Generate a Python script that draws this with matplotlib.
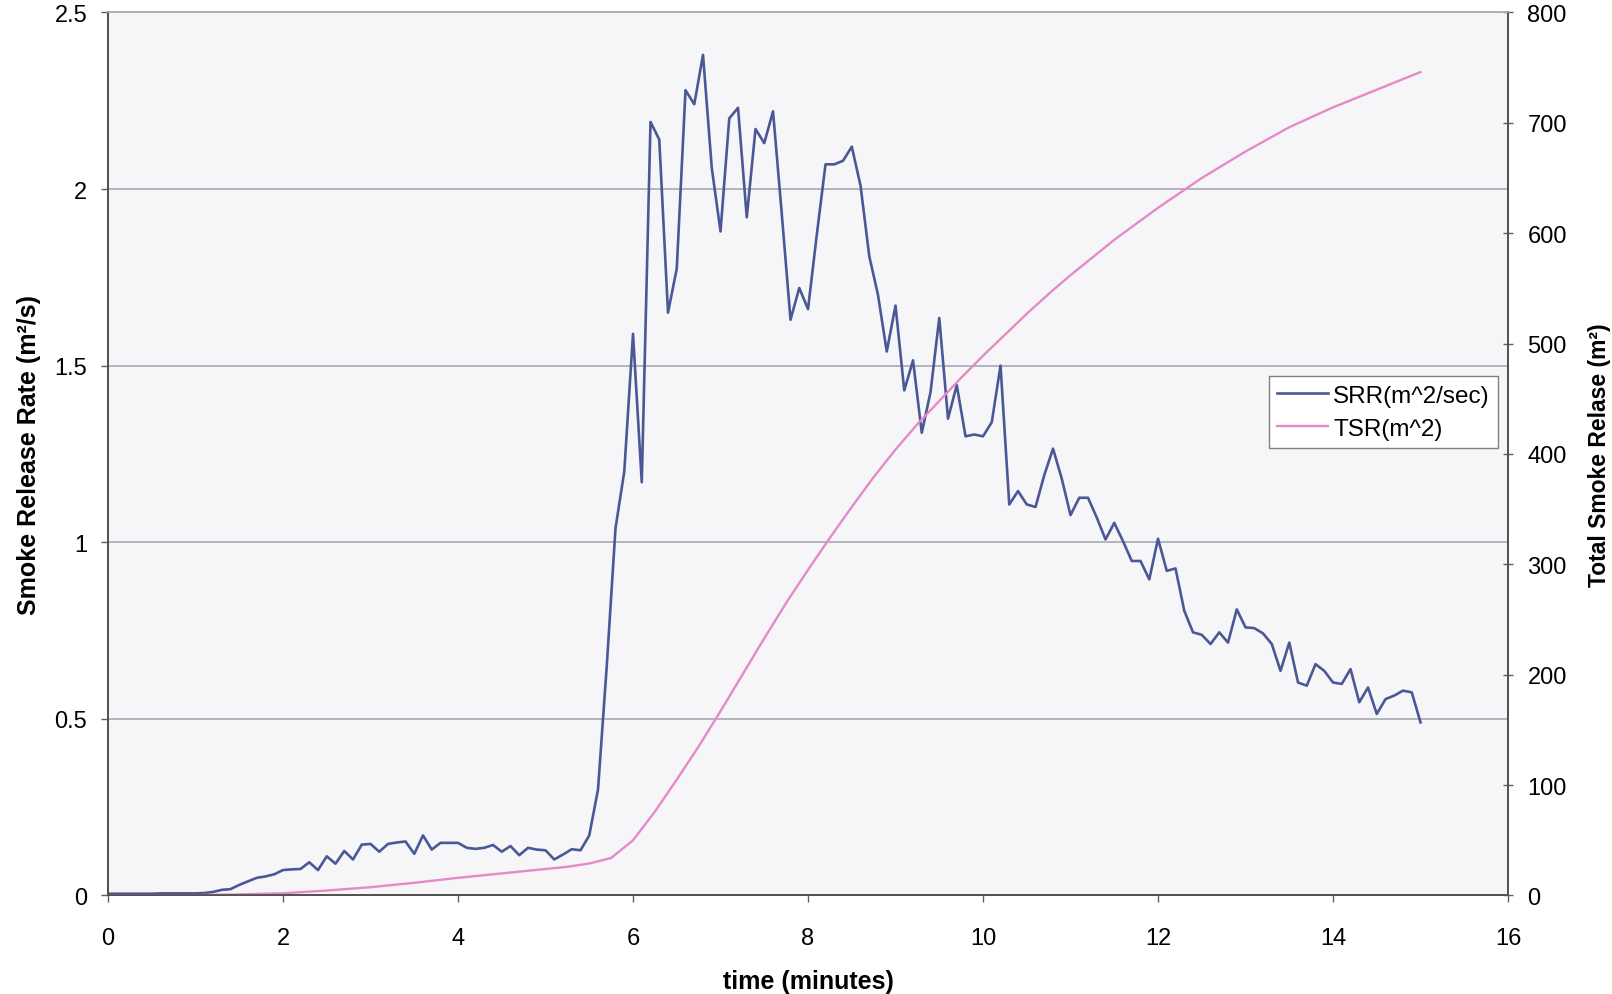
import matplotlib
matplotlib.use("Agg")
import matplotlib.pyplot as plt

plt.rcParams['font.family'] = ['Liberation Sans', 'DejaVu Sans']

# time in minutes (one reading every 6 s)
time_min = [
    0.0, 0.1, 0.2, 0.3, 0.4, 0.5, 0.6, 0.7, 0.8, 0.9,
    1.0, 1.1, 1.2, 1.3, 1.4, 1.5, 1.6, 1.7, 1.8, 1.9,
    2.0, 2.1, 2.2, 2.3, 2.4, 2.5, 2.6, 2.7, 2.8, 2.9,
    3.0, 3.1, 3.2, 3.3, 3.4, 3.5, 3.6, 3.7, 3.8, 3.9,
    4.0, 4.1, 4.2, 4.3, 4.4, 4.5, 4.6, 4.7, 4.8, 4.9,
    5.0, 5.1, 5.2, 5.3, 5.4, 5.5, 5.6, 5.7, 5.8, 5.9,
    6.0, 6.1, 6.2, 6.3, 6.4, 6.5, 6.6, 6.7, 6.8, 6.9,
    7.0, 7.1, 7.2, 7.3, 7.4, 7.5, 7.6, 7.7, 7.8, 7.9,
    8.0, 8.1, 8.2, 8.3, 8.4, 8.5, 8.6, 8.7, 8.8, 8.9,
    9.0, 9.1, 9.2, 9.3, 9.4, 9.5, 9.6, 9.7, 9.8, 9.9,
    10.0, 10.1, 10.2, 10.3, 10.4, 10.5, 10.6, 10.7, 10.8, 10.9,
    11.0, 11.1, 11.2, 11.3, 11.4, 11.5, 11.6, 11.7, 11.8, 11.9,
    12.0, 12.1, 12.2, 12.3, 12.4, 12.5, 12.6, 12.7, 12.8, 12.9,
    13.0, 13.1, 13.2, 13.3, 13.4, 13.5, 13.6, 13.7, 13.8, 13.9,
    14.0, 14.1, 14.2, 14.3, 14.4, 14.5, 14.6, 14.7, 14.8, 14.9,
    15.0,
]

# smoke release rate, m^2/s
srr = [
    0.005, 0.005, 0.005, 0.005, 0.005, 0.005, 0.006, 0.006, 0.006, 0.006,
    0.006, 0.007, 0.010, 0.016, 0.018, 0.030, 0.040, 0.050, 0.054, 0.060,
    0.072, 0.074, 0.075, 0.094, 0.072, 0.111, 0.090, 0.126, 0.102, 0.144,
    0.146, 0.124, 0.146, 0.150, 0.153, 0.118, 0.170, 0.130, 0.149, 0.149,
    0.149, 0.135, 0.132, 0.135, 0.143, 0.124, 0.140, 0.114, 0.135, 0.130,
    0.128, 0.102, 0.116, 0.131, 0.128, 0.170, 0.300, 0.650, 1.040, 1.200,
    1.590, 1.170, 2.190, 2.140, 1.650, 1.775, 2.280, 2.240, 2.380, 2.060,
    1.880, 2.200, 2.230, 1.920, 2.170, 2.130, 2.220, 1.930, 1.630, 1.720,
    1.660, 1.870, 2.070, 2.070, 2.080, 2.120, 2.010, 1.810, 1.700, 1.540,
    1.670, 1.430, 1.515, 1.310, 1.425, 1.635, 1.350, 1.445, 1.300, 1.305,
    1.300, 1.340, 1.500, 1.107, 1.145, 1.107, 1.100, 1.190, 1.265, 1.180,
    1.077, 1.126, 1.126, 1.070, 1.008, 1.055, 1.003, 0.947, 0.947, 0.895,
    1.010, 0.919, 0.926, 0.806, 0.745, 0.738, 0.712, 0.745, 0.716, 0.810,
    0.759, 0.757, 0.742, 0.712, 0.636, 0.716, 0.603, 0.594, 0.655, 0.636,
    0.603, 0.599, 0.641, 0.547, 0.589, 0.514, 0.556, 0.566, 0.580, 0.575,
    0.490,
]

# total smoke release, m^2
tsr_time = [0.0, 1.0, 1.5, 2.0, 2.5, 3.0, 3.5, 4.0, 4.5, 5.0, 5.25, 5.5,
            5.75, 6.0, 6.25, 6.5, 6.75, 7.0, 7.25, 7.5, 7.75, 8.0, 8.25,
            8.5, 8.75, 9.0, 9.25, 9.5, 9.75, 10.0, 10.25, 10.5, 10.75,
            11.0, 11.5, 12.0, 12.5, 13.0, 13.5, 14.0, 14.5, 15.0]
tsr = [0, 0.3, 1, 2, 4.5, 7.5, 11.5, 16, 20, 24, 26, 29,
       34, 50, 76, 105, 135, 167, 200, 233, 265, 295, 324,
       352, 379, 404, 427, 448, 469, 489, 508, 527, 545,
       562, 594, 623, 650, 674, 696, 714, 730, 746]

left_ticks = [0, 0.5, 1, 1.5, 2, 2.5]
left_labels = ['0', '0.5', '1', '1.5', '2', '2.5']
right_ticks = [0, 100, 200, 300, 400, 500, 600, 700, 800]
x_ticks = [0, 2, 4, 6, 8, 10, 12, 14, 16]

fig = plt.figure(figsize=(16.12, 9.95), dpi=100)
ax = fig.add_axes([0.067, 0.099, 0.8685, 0.8875])
ax.set_facecolor('#f6f6f8')

ax.set_xlim(0, 16)
ax.set_ylim(0, 2.5)
ax.set_xticks(x_ticks)
ax.set_yticks(left_ticks)
ax.set_yticklabels(left_labels)
for y in left_ticks[1:-1]:
    ax.axhline(y, color='#a8a8b4', lw=1.2, zorder=1)

l1, = ax.plot(time_min, srr, color='#4b5896', lw=1.9, zorder=3,
              label='SRR(m^2/sec)')

ax2 = ax.twinx()
ax2.set_ylim(0, 800)
ax2.set_yticks(right_ticks)
l2, = ax2.plot(tsr_time, tsr, color='#e58ac8', lw=1.7, zorder=2,
               label='TSR(m^2)')

for a in (ax, ax2):
    for s in ('left', 'right', 'bottom'):
        a.spines[s].set_color('#505050')
        a.spines[s].set_linewidth(1.2)
    a.spines['top'].set_color('#b0b0b8')
    a.spines['top'].set_linewidth(1.2)

ax.tick_params(axis='both', labelsize=17, color='#606060', length=5,
               width=1)
ax.tick_params(axis='x', pad=18)
ax.tick_params(axis='y', pad=10)
ax2.tick_params(axis='y', labelsize=17, color='#606060', length=7,
                width=1, direction='inout', pad=10.5)

ax.set_xlabel('time (minutes)', fontsize=18, fontweight='bold', labelpad=14)
ax.set_ylabel('Smoke Release Rate (m²/s)', fontsize=18, fontweight='bold',
              labelpad=10)
ax2.set_ylabel('Total Smoke Relase (m²)', fontsize=16.5, fontweight='bold',
               labelpad=15.5)

leg = ax.legend(handles=[l1, l2], loc='upper left',
                bbox_to_anchor=(0.829, 0.588), fontsize=17.5, frameon=True,
                fancybox=False, handlelength=2.1, handletextpad=0.2,
                borderpad=0.35, labelspacing=0.45, borderaxespad=0)
leg.get_frame().set_edgecolor('#808080')
leg.get_frame().set_linewidth(1.0)
leg.get_frame().set_facecolor('white')
leg.get_frame().set_alpha(1)
leg.remove()
ax2.add_artist(leg)

fig.savefig('out.png', dpi=100, facecolor='white')
